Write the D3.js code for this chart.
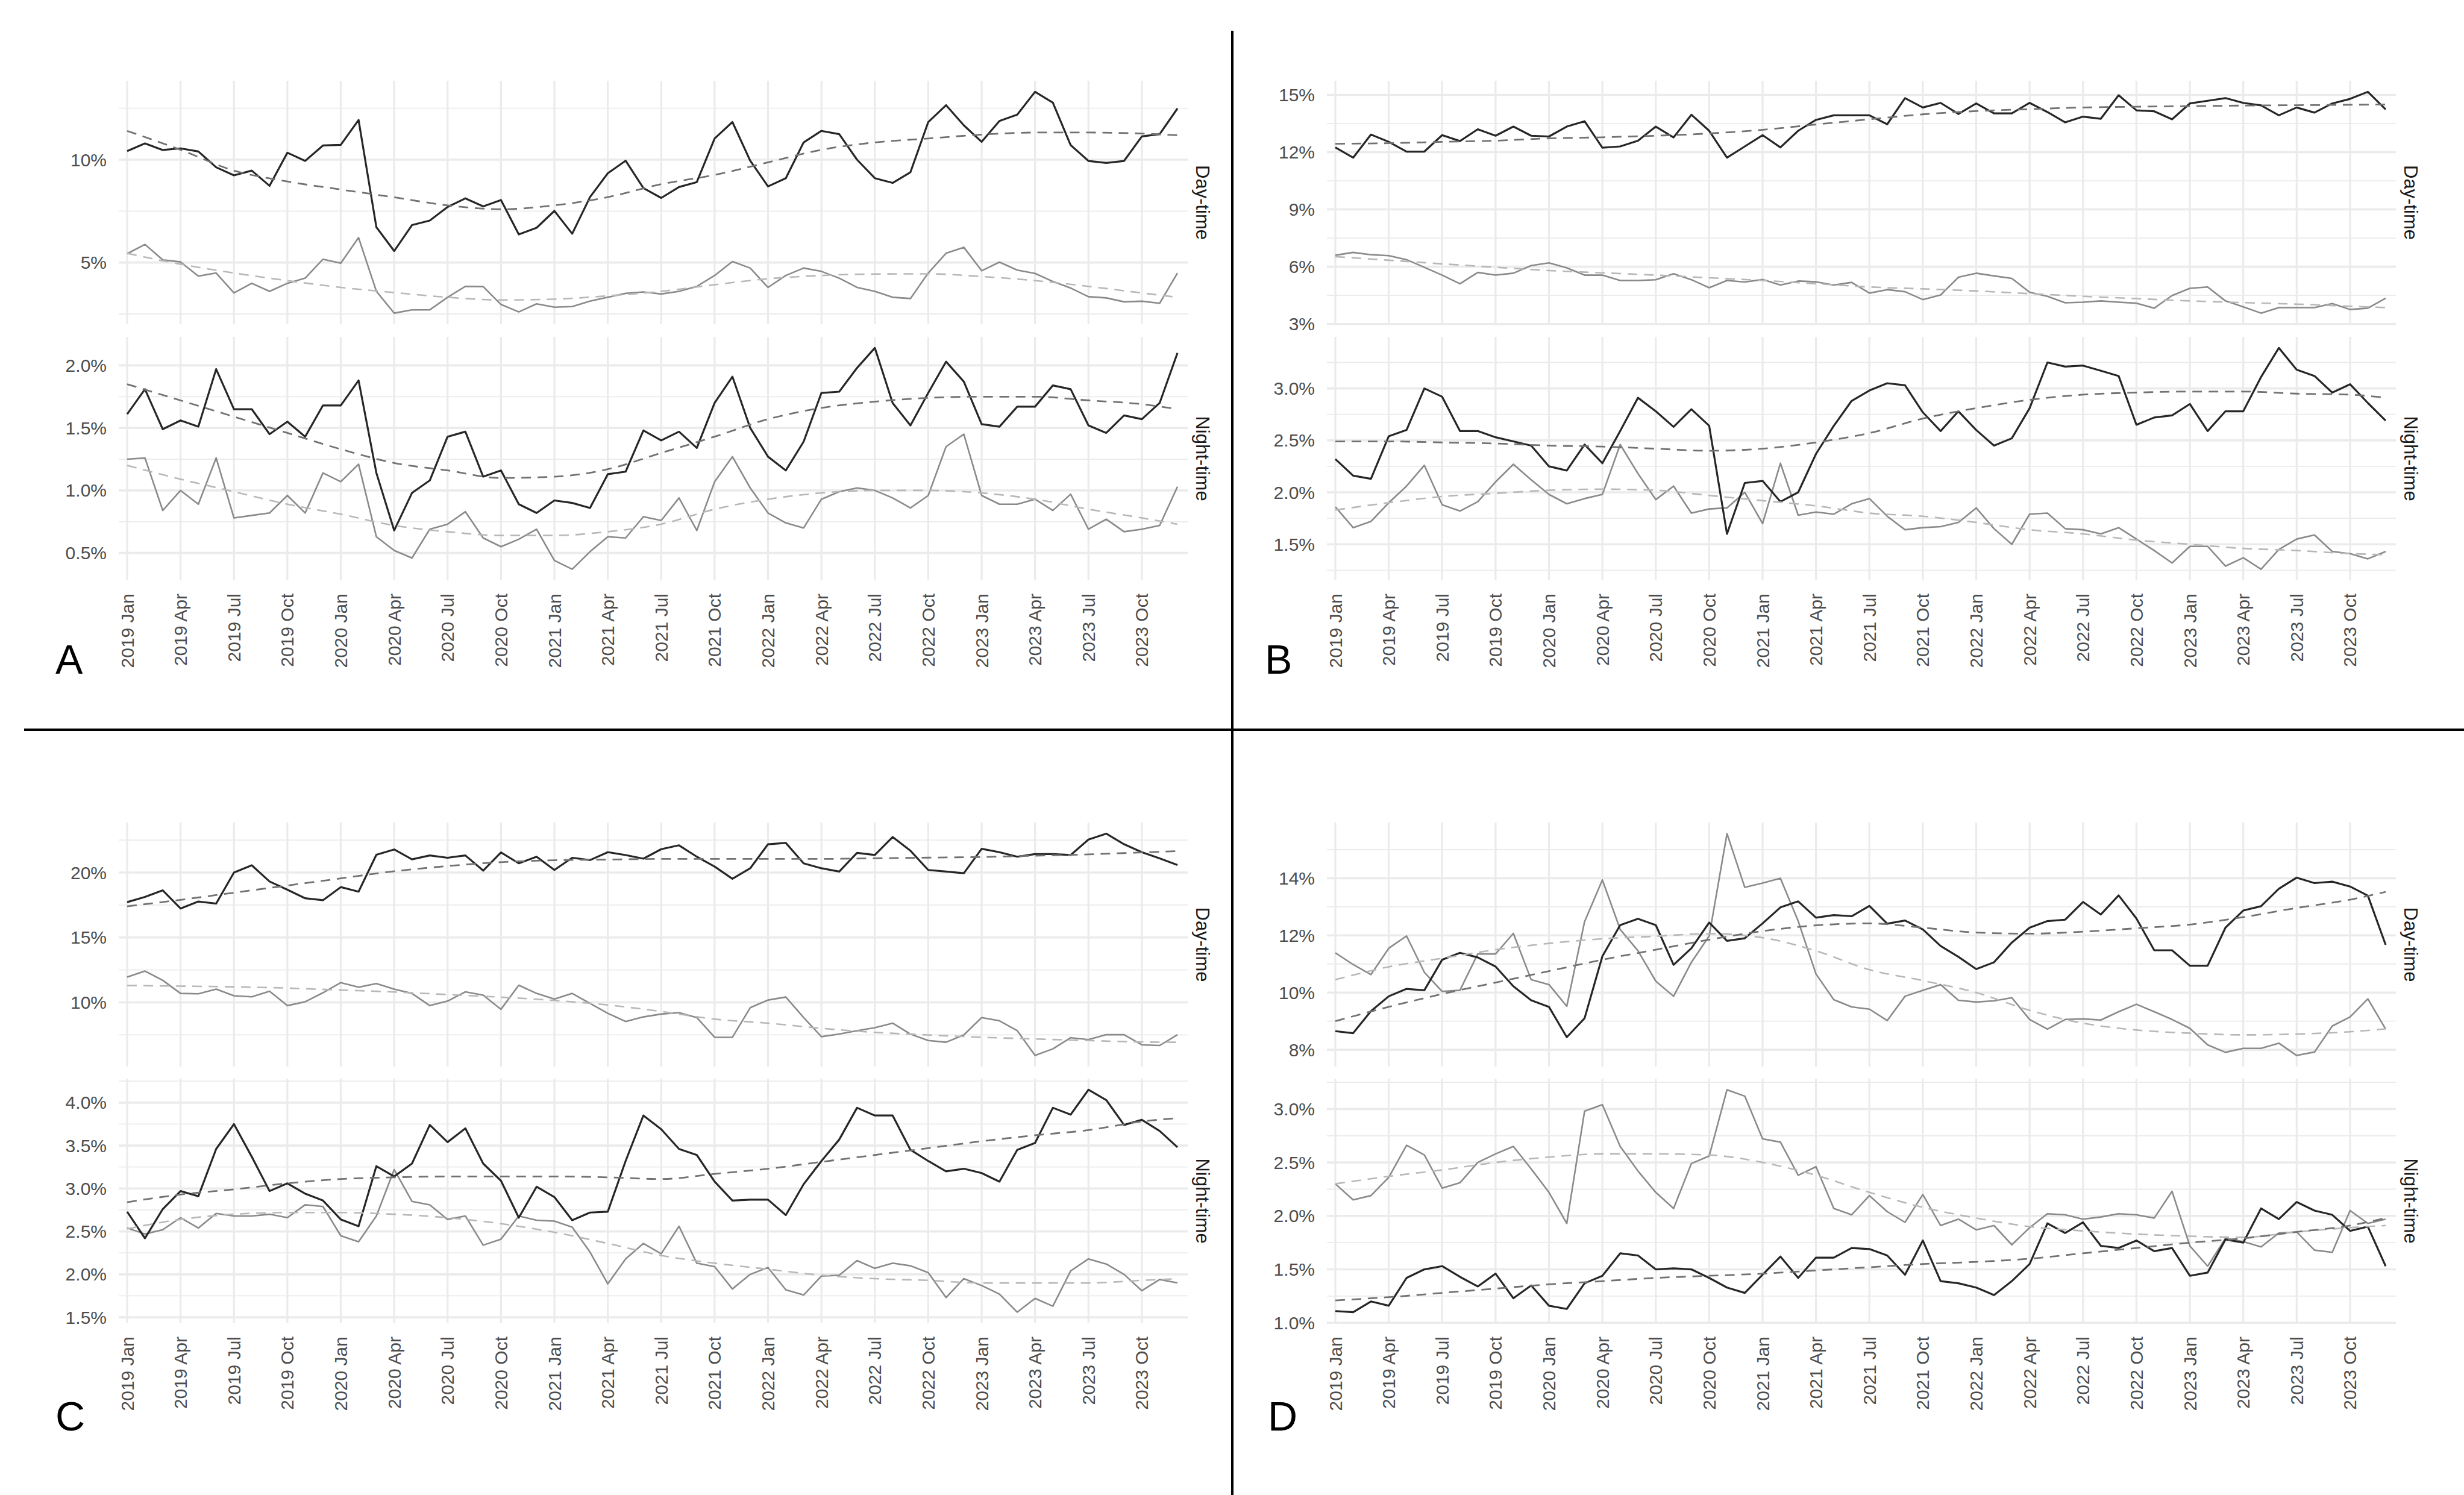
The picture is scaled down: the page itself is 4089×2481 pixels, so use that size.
<!DOCTYPE html>
<html>
<head>
<meta charset="utf-8">
<script src="https://cdn.jsdelivr.net/npm/d3@7"></script>
<style>
  body { margin: 0; background: #fff; }
  svg text { font-family: 'Liberation Sans', Arial, sans-serif; }
</style>
</head>
<body>
<svg id="chart"></svg>
<script>
// Monthly series, Jan 2019 .. Dec 2023 (60 points each)
const xTickMonths = [0, 3, 6, 9, 12, 15, 18, 21, 24, 27, 30, 33, 36, 39, 42, 45, 48, 51, 54, 57];
const xTickLabels = ['2019 Jan', '2019 Apr', '2019 Jul', '2019 Oct', '2020 Jan', '2020 Apr', '2020 Jul', '2020 Oct',
  '2021 Jan', '2021 Apr', '2021 Jul', '2021 Oct', '2022 Jan', '2022 Apr', '2022 Jul', '2022 Oct',
  '2023 Jan', '2023 Apr', '2023 Jul', '2023 Oct'];
// months at which the smoothed trend lines were read
const trendMonths = [0, 3, 6, 9, 12, 15, 18, 21, 24, 27, 30, 33, 36, 39, 42, 45, 48, 51, 54, 57, 59];

// ---- Panel A ----
const aDayDark = [10.42, 10.79, 10.47, 10.55, 10.40, 9.63, 9.24, 9.47, 8.73, 10.34,
  9.94, 10.69, 10.72, 11.93, 6.72, 5.56, 6.82, 7.04, 7.70, 8.12,
  7.73, 8.04, 6.37, 6.69, 7.51, 6.40, 8.18, 9.34, 9.95, 8.62,
  8.14, 8.67, 8.91, 11.03, 11.83, 9.95, 8.70, 9.10, 10.84, 11.40,
  11.24, 10.00, 9.10, 8.87, 9.39, 11.83, 12.65, 11.67, 10.87, 11.88,
  12.19, 13.30, 12.77, 10.71, 9.94, 9.84, 9.94, 11.13, 11.24, 12.49];
const aDayGrey = [5.43, 5.88, 5.13, 5.03, 4.34, 4.49, 3.52, 3.99, 3.60, 3.99,
  4.24, 5.16, 4.97, 6.21, 3.60, 2.54, 2.70, 2.70, 3.31, 3.84,
  3.83, 2.96, 2.60, 2.99, 2.83, 2.86, 3.12, 3.31, 3.50, 3.57,
  3.47, 3.60, 3.84, 4.37, 5.05, 4.73, 3.79, 4.37, 4.73, 4.57,
  4.24, 3.79, 3.60, 3.31, 3.25, 4.49, 5.45, 5.74, 4.60, 5.02,
  4.63, 4.47, 4.08, 3.76, 3.34, 3.28, 3.09, 3.12, 3.02, 4.49];
const aDayDarkTrend = [11.40, 10.48, 9.47, 8.94, 8.55, 8.17, 7.78, 7.59, 7.78, 8.18, 8.81,
  9.26, 9.87, 10.48, 10.84, 11.03, 11.22, 11.32, 11.32, 11.27, 11.19];
const aDayGreyTrend = [5.45, 4.92, 4.49, 4.12, 3.79, 3.54, 3.31, 3.18, 3.22, 3.38, 3.60,
  3.92, 4.21, 4.37, 4.44, 4.45, 4.32, 4.12, 3.84, 3.52, 3.31];
const aNightDark = [1.61, 1.81, 1.49, 1.56, 1.51, 1.97, 1.65, 1.65, 1.45, 1.55,
  1.43, 1.68, 1.68, 1.88, 1.14, 0.68, 0.98, 1.08, 1.43, 1.47,
  1.11, 1.16, 0.89, 0.82, 0.92, 0.90, 0.86, 1.13, 1.15, 1.48,
  1.40, 1.47, 1.34, 1.70, 1.91, 1.50, 1.27, 1.16, 1.39, 1.78,
  1.79, 1.98, 2.14, 1.70, 1.52, 1.78, 2.03, 1.87, 1.53, 1.51,
  1.67, 1.67, 1.84, 1.81, 1.52, 1.46, 1.60, 1.57, 1.70, 2.10];
const aNightGrey = [1.25, 1.26, 0.84, 1.00, 0.89, 1.26, 0.78, 0.80, 0.82, 0.96,
  0.82, 1.14, 1.07, 1.21, 0.63, 0.52, 0.46, 0.69, 0.73, 0.83,
  0.62, 0.55, 0.61, 0.69, 0.44, 0.37, 0.51, 0.63, 0.62, 0.79,
  0.76, 0.94, 0.68, 1.07, 1.27, 1.02, 0.82, 0.74, 0.70, 0.93,
  0.99, 1.02, 1.00, 0.94, 0.86, 0.96, 1.35, 1.45, 0.96, 0.89,
  0.89, 0.93, 0.84, 0.97, 0.69, 0.77, 0.67, 0.69, 0.72, 1.03];
const aNightDarkTrend = [1.85, 1.72, 1.59, 1.46, 1.33, 1.22, 1.16, 1.10, 1.11, 1.17, 1.30,
  1.43, 1.57, 1.66, 1.71, 1.74, 1.75, 1.75, 1.72, 1.69, 1.65];
const aNightGreyTrend = [1.20, 1.09, 0.99, 0.89, 0.81, 0.72, 0.67, 0.64, 0.64, 0.67, 0.73,
  0.85, 0.93, 0.98, 1.00, 1.00, 0.98, 0.93, 0.85, 0.78, 0.73];

// ---- Panel B ----
const bDayDark = [12.25, 11.71, 12.92, 12.54, 12.03, 12.03, 12.89, 12.58, 13.20, 12.86,
  13.34, 12.86, 12.82, 13.34, 13.62, 12.23, 12.30, 12.60, 13.34, 12.77,
  13.96, 13.12, 11.71, 12.30, 12.89, 12.25, 13.12, 13.69, 13.93, 13.93,
  13.93, 13.46, 14.83, 14.34, 14.58, 14.00, 14.55, 14.03, 14.03, 14.58,
  14.10, 13.56, 13.86, 13.75, 14.98, 14.19, 14.14, 13.72, 14.55, 14.69,
  14.83, 14.58, 14.45, 13.93, 14.34, 14.07, 14.55, 14.79, 15.16, 14.24];
const bDayGrey = [6.60, 6.75, 6.63, 6.58, 6.37, 5.97, 5.56, 5.11, 5.70, 5.56,
  5.66, 6.06, 6.20, 5.94, 5.56, 5.56, 5.28, 5.28, 5.32, 5.63,
  5.32, 4.90, 5.28, 5.20, 5.33, 5.04, 5.25, 5.21, 5.04, 5.18,
  4.62, 4.80, 4.69, 4.28, 4.52, 5.45, 5.66, 5.52, 5.39, 4.66,
  4.45, 4.11, 4.14, 4.21, 4.14, 4.09, 3.83, 4.49, 4.87, 4.94,
  4.21, 3.90, 3.57, 3.86, 3.86, 3.86, 4.07, 3.76, 3.83, 4.35];
const bDayDarkTrend = [12.44, 12.47, 12.54, 12.60, 12.72, 12.78, 12.86, 12.98, 13.17, 13.45, 13.72,
  13.98, 14.15, 14.25, 14.34, 14.38, 14.41, 14.44, 14.46, 14.48, 14.50];
const bDayGreyTrend = [6.53, 6.34, 6.15, 5.97, 5.80, 5.68, 5.56, 5.42, 5.28, 5.11, 4.94,
  4.84, 4.73, 4.59, 4.45, 4.33, 4.21, 4.12, 4.04, 3.93, 3.86];
const bNightDark = [2.32, 2.16, 2.13, 2.54, 2.60, 3.00, 2.92, 2.59, 2.59, 2.53,
  2.49, 2.45, 2.25, 2.21, 2.46, 2.28, 2.59, 2.91, 2.78, 2.63,
  2.80, 2.64, 1.60, 2.09, 2.11, 1.91, 2.00, 2.37, 2.64, 2.88,
  2.98, 3.05, 3.03, 2.77, 2.59, 2.78, 2.60, 2.45, 2.52, 2.81,
  3.25, 3.21, 3.22, 3.17, 3.12, 2.65, 2.72, 2.74, 2.85, 2.59,
  2.78, 2.78, 3.11, 3.39, 3.18, 3.12, 2.96, 3.04, 2.86, 2.69];
const bNightGrey = [1.86, 1.66, 1.72, 1.90, 2.06, 2.26, 1.88, 1.82, 1.91, 2.10,
  2.27, 2.12, 1.98, 1.89, 1.94, 1.98, 2.46, 2.18, 1.93, 2.06,
  1.80, 1.84, 1.85, 2.00, 1.70, 2.28, 1.78, 1.81, 1.79, 1.89,
  1.94, 1.77, 1.64, 1.66, 1.67, 1.71, 1.85, 1.65, 1.50, 1.79,
  1.80, 1.65, 1.64, 1.60, 1.66, 1.55, 1.44, 1.32, 1.48, 1.48,
  1.29, 1.37, 1.26, 1.45, 1.55, 1.59, 1.43, 1.41, 1.36, 1.43];
const bNightDarkTrend = [2.49, 2.49, 2.48, 2.47, 2.45, 2.44, 2.42, 2.40, 2.42, 2.48, 2.57,
  2.71, 2.81, 2.89, 2.94, 2.96, 2.97, 2.97, 2.95, 2.94, 2.91];
const bNightGreyTrend = [1.83, 1.90, 1.96, 1.99, 2.02, 2.03, 2.02, 1.97, 1.92, 1.87, 1.80,
  1.77, 1.71, 1.64, 1.60, 1.54, 1.50, 1.46, 1.44, 1.41, 1.40];

// ---- Panel C ----
const cDayDark = [17.72, 18.12, 18.63, 17.23, 17.77, 17.61, 20.00, 20.56, 19.31, 18.68,
  18.02, 17.87, 18.88, 18.53, 21.37, 21.78, 21.02, 21.32, 21.14, 21.32,
  20.15, 21.55, 20.71, 21.22, 20.20, 21.14, 20.96, 21.57, 21.35, 21.07,
  21.80, 22.10, 21.22, 20.46, 19.52, 20.33, 22.18, 22.28, 20.71, 20.33,
  20.08, 21.52, 21.35, 22.74, 21.68, 20.20, 20.08, 19.95, 21.83, 21.57,
  21.22, 21.42, 21.42, 21.35, 22.54, 23.00, 22.18, 21.57, 21.09, 20.58];
const cDayGrey = [11.95, 12.41, 11.70, 10.69, 10.66, 11.02, 10.51, 10.43, 10.86, 9.75,
  10.05, 10.74, 11.52, 11.17, 11.45, 11.02, 10.69, 9.75, 10.10, 10.81,
  10.56, 9.47, 11.32, 10.69, 10.25, 10.69, 9.92, 9.16, 8.53, 8.88,
  9.10, 9.21, 8.83, 7.31, 7.31, 9.59, 10.18, 10.41, 8.83, 7.36,
  7.56, 7.82, 8.05, 8.40, 7.56, 7.06, 6.93, 7.49, 8.83, 8.58,
  7.82, 5.91, 6.42, 7.28, 7.13, 7.51, 7.51, 6.73, 6.68, 7.51];
const cDayDarkTrend = [17.40, 17.90, 18.45, 19.00, 19.55, 20.10, 20.50, 20.80, 20.95, 21.00, 21.05,
  21.05, 21.05, 21.05, 21.10, 21.15, 21.20, 21.30, 21.40, 21.55, 21.65];
const cDayGreyTrend = [11.30, 11.25, 11.20, 11.10, 10.95, 10.80, 10.60, 10.40, 10.15, 9.80, 9.30,
  8.71, 8.40, 8.00, 7.69, 7.49, 7.31, 7.18, 7.06, 6.95, 6.93];
const cNightDark = [2.73, 2.42, 2.76, 2.97, 2.91, 3.46, 3.75, 3.37, 2.97, 3.06,
  2.94, 2.86, 2.64, 2.56, 3.26, 3.14, 3.29, 3.74, 3.54, 3.70,
  3.29, 3.09, 2.66, 3.02, 2.90, 2.63, 2.72, 2.73, 3.32, 3.85,
  3.69, 3.46, 3.39, 3.08, 2.86, 2.87, 2.87, 2.69, 3.05, 3.32,
  3.57, 3.94, 3.85, 3.85, 3.45, 3.32, 3.20, 3.23, 3.18, 3.08,
  3.45, 3.53, 3.94, 3.86, 4.15, 4.03, 3.74, 3.80, 3.67, 3.48];
const cNightGrey = [2.54, 2.47, 2.52, 2.66, 2.54, 2.71, 2.68, 2.68, 2.70, 2.66,
  2.81, 2.79, 2.45, 2.38, 2.68, 3.22, 2.85, 2.81, 2.64, 2.68,
  2.34, 2.41, 2.68, 2.63, 2.62, 2.55, 2.26, 1.89, 2.18, 2.36,
  2.24, 2.56, 2.13, 2.09, 1.83, 2.00, 2.08, 1.82, 1.76, 1.98,
  1.99, 2.16, 2.07, 2.13, 2.10, 2.02, 1.73, 1.95, 1.87, 1.77,
  1.56, 1.72, 1.63, 2.04, 2.18, 2.12, 2.00, 1.81, 1.94, 1.90];
const cNightDarkTrend = [2.84, 2.93, 2.99, 3.06, 3.11, 3.13, 3.14, 3.14, 3.14, 3.13, 3.11,
  3.17, 3.23, 3.31, 3.39, 3.47, 3.55, 3.62, 3.68, 3.78, 3.82];
const cNightGreyTrend = [2.53, 2.64, 2.70, 2.72, 2.72, 2.70, 2.66, 2.59, 2.49, 2.36, 2.22,
  2.13, 2.06, 1.99, 1.95, 1.93, 1.90, 1.90, 1.90, 1.93, 1.95];

// ---- Panel D ----
const dDayDark = [8.65, 8.58, 9.35, 9.87, 10.13, 10.08, 11.15, 11.39, 11.23, 10.91,
  10.22, 9.73, 9.50, 8.44, 9.10, 11.27, 12.36, 12.58, 12.36, 10.97,
  11.55, 12.45, 11.81, 11.90, 12.42, 12.98, 13.19, 12.62, 12.71, 12.67,
  13.03, 12.41, 12.52, 12.21, 11.63, 11.25, 10.82, 11.06, 11.75, 12.27,
  12.50, 12.55, 13.17, 12.73, 13.40, 12.59, 11.48, 11.48, 10.94, 10.94,
  12.27, 12.87, 13.02, 13.63, 14.02, 13.83, 13.88, 13.71, 13.39, 11.67];
const dDayGrey = [11.39, 10.98, 10.63, 11.55, 11.98, 10.71, 10.04, 10.08, 11.35, 11.35,
  12.07, 10.45, 10.28, 9.52, 12.48, 13.94, 12.21, 11.46, 10.40, 9.87,
  11.06, 11.98, 15.56, 13.68, 13.83, 14.00, 12.50, 10.65, 9.75, 9.50,
  9.42, 9.02, 9.87, 10.08, 10.28, 9.73, 9.67, 9.71, 9.82, 9.06,
  8.72, 9.06, 9.08, 9.04, 9.33, 9.59, 9.33, 9.06, 8.75, 8.17,
  7.91, 8.05, 8.05, 8.23, 7.80, 7.92, 8.83, 9.15, 9.78, 8.72];
const dDayDarkTrend = [9.00, 9.50, 9.95, 10.35, 10.75, 11.15, 11.50, 11.85, 12.15, 12.35, 12.42,
  12.27, 12.10, 12.06, 12.13, 12.25, 12.38, 12.64, 12.96, 13.25, 13.52];
const dDayGreyTrend = [10.45, 10.90, 11.20, 11.50, 11.72, 11.88, 11.97, 12.06, 11.92, 11.46, 10.80,
  10.42, 10.00, 9.38, 8.93, 8.69, 8.58, 8.52, 8.55, 8.63, 8.73];
const dNightDark = [1.11, 1.10, 1.20, 1.16, 1.42, 1.50, 1.53, 1.43, 1.34, 1.46,
  1.23, 1.35, 1.16, 1.13, 1.37, 1.44, 1.65, 1.63, 1.50, 1.51,
  1.50, 1.42, 1.33, 1.28, 1.45, 1.62, 1.42, 1.61, 1.61, 1.70,
  1.69, 1.63, 1.45, 1.77, 1.39, 1.37, 1.33, 1.26, 1.39, 1.55,
  1.93, 1.84, 1.94, 1.72, 1.70, 1.77, 1.67, 1.70, 1.44, 1.47,
  1.78, 1.75, 2.07, 1.97, 2.13, 2.05, 2.01, 1.86, 1.90, 1.53];
const dNightGrey = [2.30, 2.15, 2.19, 2.36, 2.66, 2.57, 2.26, 2.31, 2.50, 2.58,
  2.65, 2.44, 2.22, 1.93, 2.98, 3.04, 2.65, 2.42, 2.22, 2.07,
  2.49, 2.56, 3.18, 3.12, 2.72, 2.69, 2.38, 2.46, 2.07, 2.01,
  2.19, 2.04, 1.94, 2.20, 1.91, 1.97, 1.87, 1.91, 1.73, 1.89,
  2.02, 2.01, 1.97, 1.99, 2.02, 2.01, 1.98, 2.23, 1.72, 1.53,
  1.79, 1.76, 1.71, 1.84, 1.85, 1.68, 1.66, 2.05, 1.93, 1.97];
const dNightDarkTrend = [1.21, 1.24, 1.28, 1.32, 1.36, 1.39, 1.42, 1.44, 1.46, 1.49, 1.52,
  1.55, 1.57, 1.60, 1.65, 1.70, 1.75, 1.79, 1.85, 1.91, 1.98];
const dNightGreyTrend = [2.30, 2.37, 2.43, 2.50, 2.55, 2.58, 2.58, 2.57, 2.50, 2.38, 2.22,
  2.08, 1.98, 1.90, 1.86, 1.83, 1.81, 1.80, 1.85, 1.89, 1.91];

// y-axis breaks per facet
const aDayTicks = [5, 10];
const aNightTicks = [0.5, 1.0, 1.5, 2.0];
const bDayTicks = [3, 6, 9, 12, 15];
const bNightTicks = [1.5, 2.0, 2.5, 3.0];
const cDayTicks = [10, 15, 20];
const cNightTicks = [1.5, 2.0, 2.5, 3.0, 3.5, 4.0];
const dDayTicks = [8, 10, 12, 14];
const dNightTicks = [1.0, 1.5, 2.0, 2.5, 3.0];

const facetNames = ['Day-time', 'Night-time'];

// ---------------- layout ----------------
const W = 4089, H = 2481;
const svg = d3.select('#chart').attr('width', W).attr('height', H)
  .attr('viewBox', `0 0 ${W} ${H}`);
svg.append('rect').attr('width', W).attr('height', H).attr('fill', '#fff');

const colLeft = [197, 2202];
const plotW = 1774;
const rowFacets = [
  [[134, 538], [559, 963]],
  [[1365, 1770], [1790, 2196]]
];

const panels = [
  { letter: 'A', col: 0, row: 0, lx: 92, ly: 1118,
    facets: [
      { dark: aDayDark, grey: aDayGrey, darkT: aDayDarkTrend, greyT: aDayGreyTrend, ticks: aDayTicks, dec: 0 },
      { dark: aNightDark, grey: aNightGrey, darkT: aNightDarkTrend, greyT: aNightGreyTrend, ticks: aNightTicks, dec: 1 }] },
  { letter: 'B', col: 1, row: 0, lx: 2099, ly: 1118,
    facets: [
      { dark: bDayDark, grey: bDayGrey, darkT: bDayDarkTrend, greyT: bDayGreyTrend, ticks: bDayTicks, dec: 0 },
      { dark: bNightDark, grey: bNightGrey, darkT: bNightDarkTrend, greyT: bNightGreyTrend, ticks: bNightTicks, dec: 1 }] },
  { letter: 'C', col: 0, row: 1, lx: 92, ly: 2374,
    facets: [
      { dark: cDayDark, grey: cDayGrey, darkT: cDayDarkTrend, greyT: cDayGreyTrend, ticks: cDayTicks, dec: 0 },
      { dark: cNightDark, grey: cNightGrey, darkT: cNightDarkTrend, greyT: cNightGreyTrend, ticks: cNightTicks, dec: 1 }] },
  { letter: 'D', col: 1, row: 1, lx: 2104, ly: 2374,
    facets: [
      { dark: dDayDark, grey: dDayGrey, darkT: dDayDarkTrend, greyT: dDayGreyTrend, ticks: dDayTicks, dec: 0 },
      { dark: dNightDark, grey: dNightGrey, darkT: dNightDarkTrend, greyT: dNightGreyTrend, ticks: dNightTicks, dec: 1 }] }
];

const gridColor = '#ebebeb';

panels.forEach(p => {
  const left = colLeft[p.col];
  const right = left + plotW;
  const x = d3.scaleLinear().domain([0, 59]).range([left + 14, left + 1757]);

  p.facets.forEach((f, fi) => {
    const [top, bottom] = rowFacets[p.row][fi];
    // ggplot-like 5% expansion of the data range
    const all = f.dark.concat(f.grey, f.darkT, f.greyT);
    const lo = d3.min(all), hi = d3.max(all), pad = (hi - lo) * 0.05;
    const y = d3.scaleLinear().domain([lo - pad, hi + pad]).range([bottom, top]);
    const g = svg.append('g');

    // minor horizontal grid: halfway between breaks
    const step = f.ticks[1] - f.ticks[0];
    const minor = d3.range(f.ticks[0] - step / 2, f.ticks[f.ticks.length - 1] + step, step)
      .filter(v => v > y.domain()[0] && v < y.domain()[1]);
    g.selectAll('.minor').data(minor).enter().append('line')
      .attr('x1', left).attr('x2', right)
      .attr('y1', d => y(d)).attr('y2', d => y(d))
      .attr('stroke', gridColor).attr('stroke-width', 1.8);
    g.selectAll('.major').data(f.ticks).enter().append('line')
      .attr('x1', left).attr('x2', right)
      .attr('y1', d => y(d)).attr('y2', d => y(d))
      .attr('stroke', gridColor).attr('stroke-width', 3.6);
    g.selectAll('.vgrid').data(xTickMonths).enter().append('line')
      .attr('x1', d => x(d)).attr('x2', d => x(d))
      .attr('y1', top).attr('y2', bottom)
      .attr('stroke', gridColor).attr('stroke-width', 3.2);

    // y tick labels
    const fmt = d3.format(`.${f.dec}f`);
    g.selectAll('.ylab').data(f.ticks).enter().append('text')
      .attr('x', left - 20).attr('y', d => y(d))
      .attr('text-anchor', 'end').attr('dominant-baseline', 'central')
      .attr('font-size', 30).attr('fill', '#4d4d4d')
      .text(d => fmt(d) + '%');

    // series
    const line = d3.line().x((d, i) => x(i)).y(d => y(d));
    const trend = d3.line().x((d, i) => x(trendMonths[i])).y(d => y(d)).curve(d3.curveMonotoneX);

    g.append('path').attr('d', line(f.grey)).attr('fill', 'none')
      .attr('stroke', '#8a8a8a').attr('stroke-width', 2.6).attr('stroke-linejoin', 'round');
    g.append('path').attr('d', line(f.dark)).attr('fill', 'none')
      .attr('stroke', '#262626').attr('stroke-width', 3.2).attr('stroke-linejoin', 'round');
    g.append('path').attr('d', trend(f.greyT)).attr('fill', 'none')
      .attr('stroke', '#b8b8b8').attr('stroke-width', 2.6).attr('stroke-dasharray', '16,11');
    g.append('path').attr('d', trend(f.darkT)).attr('fill', 'none')
      .attr('stroke', '#727272').attr('stroke-width', 2.8).attr('stroke-dasharray', '16,11');

    // facet strip label
    const cy = (top + bottom) / 2;
    g.append('text')
      .attr('transform', `translate(${right + 24},${cy}) rotate(90)`)
      .attr('text-anchor', 'middle').attr('dominant-baseline', 'central')
      .attr('font-size', 31).attr('fill', '#1a1a1a')
      .text(facetNames[fi]);

    // x labels under the night facet
    if (fi === 1) {
      g.selectAll('.xlab').data(xTickMonths).enter().append('text')
        .attr('transform', d => `translate(${x(d)},${bottom + 22}) rotate(-90)`)
        .attr('text-anchor', 'end').attr('dominant-baseline', 'central')
        .attr('font-size', 30).attr('fill', '#4d4d4d')
        .text((d, i) => xTickLabels[i]);
    }
  });

  // panel letter
  svg.append('text').attr('x', p.lx).attr('y', p.ly)
    .attr('font-size', 68).attr('fill', '#000')
    .text(p.letter);
});

// separator lines between panels
svg.append('line').attr('x1', 2045).attr('x2', 2045).attr('y1', 51).attr('y2', H)
  .attr('stroke', '#000').attr('stroke-width', 4);
svg.append('line').attr('x1', 40).attr('x2', W).attr('y1', 1211).attr('y2', 1211)
  .attr('stroke', '#000').attr('stroke-width', 4);
</script>
</body>
</html>
